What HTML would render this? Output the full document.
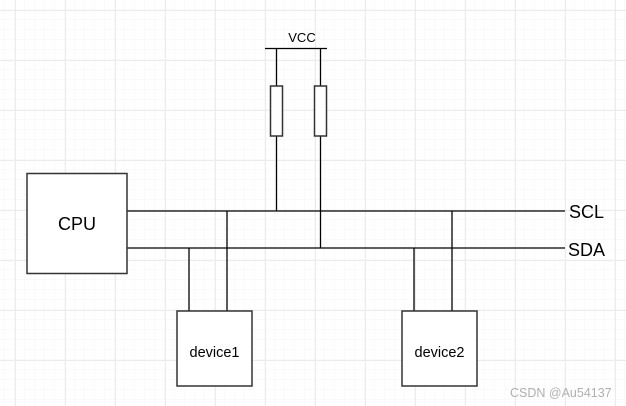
<!DOCTYPE html>
<html><head><meta charset="utf-8"><style>
html,body{margin:0;padding:0;background:#fff;}
svg{display:block;}
text{font-family:"Liberation Sans",sans-serif;}
</style></head><body>
<svg width="626" height="406" viewBox="0 0 626 406" xmlns="http://www.w3.org/2000/svg">
<defs>
<pattern id="g" x="5" y="0" width="10" height="10" patternUnits="userSpaceOnUse">
<path d="M10 0V10M0 10H10" stroke="#f4f4f4" stroke-width="1" fill="none"/>
</pattern>
<pattern id="G" x="15" y="10" width="50" height="50" patternUnits="userSpaceOnUse">
<path d="M0.5 0V50M0 0.5H50" stroke="#ebebeb" stroke-width="1" fill="none"/>
</pattern>
</defs>
<rect width="626" height="406" fill="#fff"/>
<rect width="626" height="406" fill="url(#g)"/>
<rect width="626" height="406" fill="url(#G)"/>
<g stroke="#000" stroke-width="1.3" fill="none">
<line x1="127" y1="211" x2="565" y2="211"/>
<line x1="127" y1="248" x2="565" y2="248"/>
<line x1="189" y1="248" x2="189" y2="311"/>
<line x1="227" y1="211" x2="227" y2="311"/>
<line x1="414" y1="248" x2="414" y2="311"/>
<line x1="452" y1="211" x2="452" y2="311"/>
<line x1="265" y1="48.5" x2="327" y2="48.5"/>
<line x1="276.5" y1="48" x2="276.5" y2="211"/>
<line x1="320.5" y1="48" x2="320.5" y2="248"/>
</g>
<g stroke="#333" stroke-width="1.5" fill="#fff">
<rect x="27" y="173.5" width="100" height="100"/>
<rect x="177" y="311" width="75" height="75"/>
<rect x="402" y="311" width="75" height="75"/>
<rect x="270.5" y="86" width="12" height="50"/>
<rect x="314.5" y="86" width="12" height="50"/>
</g>
<text x="77" y="230" font-size="18" text-anchor="middle">CPU</text>
<text x="214.5" y="357" font-size="14.5" text-anchor="middle">device1</text>
<text x="439.5" y="357" font-size="14.5" text-anchor="middle">device2</text>
<text x="302" y="42" font-size="13" text-anchor="middle">VCC</text>
<text x="569" y="218" font-size="18">SCL</text>
<text x="568" y="256" font-size="18">SDA</text>
<text x="510" y="397" font-size="12.5" fill="#b0b0b0">CSDN @Au54137</text>
</svg>
</body></html>
